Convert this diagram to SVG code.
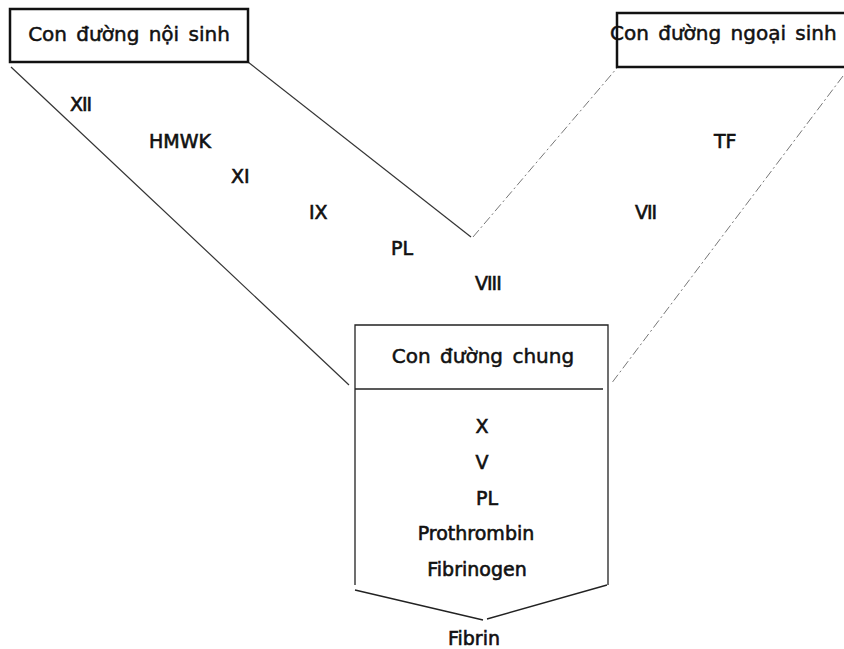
<svg xmlns="http://www.w3.org/2000/svg" width="844" height="649" viewBox="0 0 844 649">
  <style>
    .lbl { font-family: "DejaVu Sans", "Liberation Sans", sans-serif; font-size: 19px; fill: #111; stroke: #111; stroke-width: 0.6; }
    .hdr { font-family: "DejaVu Sans", "Liberation Sans", sans-serif; font-size: 20px; fill: #111; stroke: #111; stroke-width: 0.5; word-spacing: 3px; }
    .box { fill: #fff; stroke: #111; stroke-width: 2.5; }
    .frame { fill: none; stroke: #222; stroke-width: 1.3; }
    .solid { fill: none; stroke: #333; stroke-width: 1.2; }
    .faint { fill: none; stroke: #777; stroke-width: 1; stroke-dasharray: 9 3 2 3; }
  </style>

  <!-- pathway boundary lines -->
  <g id="connectors">
    <line class="solid" x1="11" y1="67" x2="349" y2="385"/>
    <line class="solid" x1="248" y1="62" x2="471" y2="237"/>
    <line class="faint" x1="473" y1="237" x2="617" y2="68"/>
    <line class="faint" x1="843" y1="76" x2="611" y2="384"/>
  </g>

  <!-- intrinsic pathway -->
  <g id="noi-sinh">
    <rect class="box" x="10" y="9" width="238" height="53"/>
    <text class="hdr" x="129" y="41" text-anchor="middle">Con đường nội sinh</text>
  </g>

  <!-- extrinsic pathway -->
  <g id="ngoai-sinh">
    <path class="box" d="M846,13 H617 V67 H846"/>
    <text class="hdr" x="610" y="40">Con đường ngoại sinh</text>
  </g>

  <!-- factors of the intrinsic pathway -->
  <g id="noi-sinh-factors">
    <text class="lbl" x="70" y="111" letter-spacing="-1">XII</text>
    <text class="lbl" x="149" y="148">HMWK</text>
    <text class="lbl" x="231" y="183">XI</text>
    <text class="lbl" x="309" y="219">IX</text>
    <text class="lbl" x="391" y="255">PL</text>
    <text class="lbl" x="475" y="290" letter-spacing="-1">VIII</text>
  </g>

  <!-- factors of the extrinsic pathway -->
  <g id="ngoai-sinh-factors">
    <text class="lbl" x="714" y="148">TF</text>
    <text class="lbl" x="635" y="219" letter-spacing="-1">VII</text>
  </g>

  <!-- common pathway -->
  <g id="chung">
    <path class="frame" d="M355,585 V325 H608 V585"/>
    <line class="frame" x1="355" y1="389" x2="603" y2="389"/>
    <path class="frame" d="M355,590 L483,620 M487,619 L607,585"/>
    <text class="hdr" x="483" y="363" text-anchor="middle">Con đường chung</text>
    <text class="lbl" x="482" y="433" text-anchor="middle">X</text>
    <text class="lbl" x="482" y="469" text-anchor="middle">V</text>
    <text class="lbl" x="487" y="505" text-anchor="middle">PL</text>
    <text class="lbl" x="476" y="540" text-anchor="middle">Prothrombin</text>
    <text class="lbl" x="477" y="576" text-anchor="middle">Fibrinogen</text>
  </g>

  <!-- product -->
  <g id="fibrin">
    <text class="lbl" x="474" y="645" text-anchor="middle">Fibrin</text>
  </g>
</svg>
